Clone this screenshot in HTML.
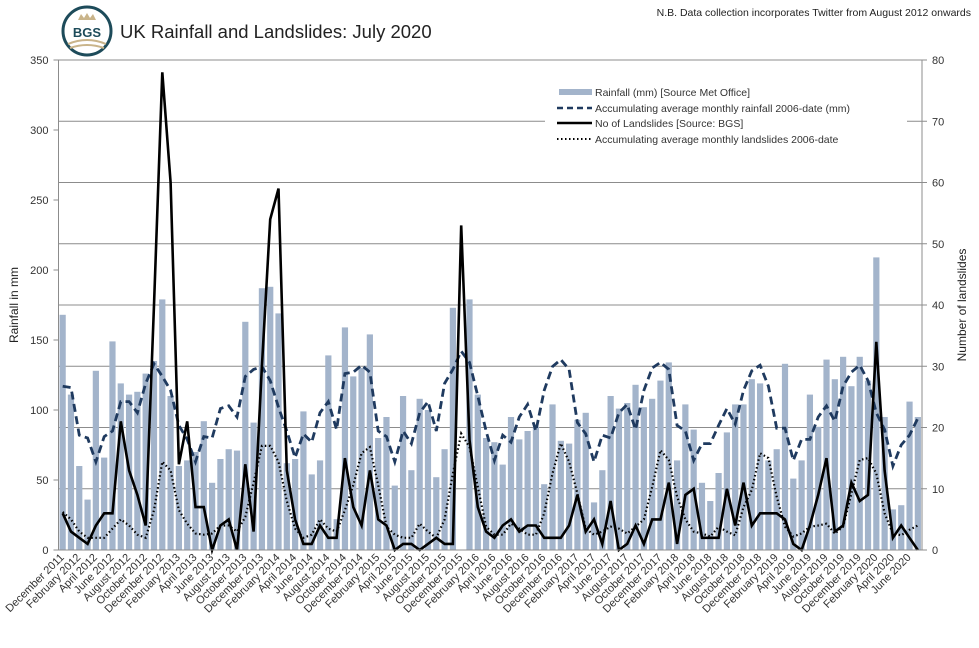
<!DOCTYPE html>
<html><head><meta charset="utf-8">
<style>
html,body{margin:0;padding:0;background:#fff;}
svg{display:block;font-family:"Liberation Sans",sans-serif;}
</style></head>
<body>
<svg id="chart" width="979" height="648" viewBox="0 0 979 648" xmlns="http://www.w3.org/2000/svg">
  <g>
    <circle cx="87" cy="31" r="24" fill="#fff" stroke="#1d4b5a" stroke-width="3"/>
    <path d="M78 20 l3 -6 l3 4 l3 -5 l3 5 l3 -4 l3 6 z" fill="#c9b48a"/>
    <text x="87" y="37" text-anchor="middle" font-size="13" font-weight="bold" fill="#1d4b5a">BGS</text>
    <path d="M68 44 q19 -8 38 0 M70 48 q17 -6 34 0" stroke="#c9b48a" stroke-width="2" fill="none"/>
  </g>
  <text x="120" y="38" font-size="18.5" fill="#222">UK Rainfall and Landslides: July 2020</text>
  <text x="971" y="16" font-size="10.5" text-anchor="end" fill="#222">N.B. Data collection incorporates Twitter from August 2012 onwards</text>
  <g id="grid"></g>
  <g id="bars"></g>
  <g id="lines"></g>
  <g id="axes"></g>
  <g>
    <rect x="545" y="80" width="362" height="72" fill="#fff"/>
    <rect x="559" y="89" width="33" height="6" fill="#a3b4cb"/>
    <text x="595" y="96" font-size="10.5" fill="#333">Rainfall (mm) [Source Met Office]</text>
    <line x1="557" y1="108" x2="592" y2="108" stroke="#1f3a5f" stroke-width="2.5" stroke-dasharray="6 4"/>
    <text x="595" y="112" font-size="10.5" fill="#333">Accumulating average monthly rainfall 2006-date (mm)</text>
    <line x1="557" y1="123" x2="592" y2="123" stroke="#000" stroke-width="2.5"/>
    <text x="595" y="127" font-size="10.5" fill="#333">No of Landslides [Source: BGS]</text>
    <line x1="557" y1="139" x2="592" y2="139" stroke="#000" stroke-width="2" stroke-dasharray="1.5 2.5"/>
    <text x="595" y="143" font-size="10.5" fill="#333">Accumulating average monthly landslides 2006-date</text>
  </g>
  <text transform="translate(18,305) rotate(-90)" text-anchor="middle" font-size="12" fill="#222">Rainfall in mm</text>
  <text transform="translate(966,305) rotate(-90)" text-anchor="middle" font-size="12" fill="#222">Number of landslides</text>
</svg>
<script>
const monthNames = ["January","February","March","April","May","June","July","August","September","October","November","December"];
const rainfall = [168,111,60,36,128,66,149,119,111,113,126,135,179,110,60,64,70,92,48,65,72,71,163,91,187,188,169,62,65,99,54,64,139,22,159,124,130,154,80,95,46,110,57,108,100,52,72,173,0,179,111,80,77,61,95,79,85,88,47,104,78,76,93,98,34,57,110,101,105,118,102,108,121,134,64,104,86,48,35,55,84,104,104,122,119,64,72,133,51,64,111,88,136,122,138,117,138,121,209,95,29,32,106,95];
const avgRainfall = [117,116,82,80,63,81,85,106,106,98,119,133,124,114,89,79,63,81,80,101,103,95,124,129,131,121,102,85,66,83,77,98,106,86,126,127,132,127,85,81,63,85,76,98,106,85,119,129,142,134,110,85,64,82,77,95,104,85,114,131,136,129,91,83,63,82,80,98,104,86,114,130,134,129,89,85,64,76,76,89,101,90,114,128,132,117,87,87,64,79,79,95,103,92,117,127,132,121,98,86,60,75,82,94];
const landslides = [6,3,2,1,4,6,6,21,13,9,4,40,78,60,14,21,7,7,0,4,5,0,14,3,30,54,59,13,5,1,1,4,2,2,15,7,4,13,5,4,0,1,1,0,1,2,1,1,53,18,7,3,2,4,5,3,4,4,2,2,2,4,9,3,5,1,8,0,1,4,1,5,5,11,1,9,10,2,2,2,10,4,11,4,6,6,6,5,1,0,4,9,15,3,4,11,8,9,34,13,2,4,2,0];
const avgLandslides = [6.2,5,3,2,2,2,3.5,5,4,2.5,2,6.5,14.4,13,6.5,4.3,2.7,2.5,2.7,4,4,3,5.4,11,17,17,14.4,8,3.5,2,2.5,5,3.5,3,6.5,10.6,15.8,16.8,10.6,3.8,2.5,2,2,4.3,3,2,5,12.5,19,16.8,10.3,3.8,2.5,2.5,4.3,3.5,2.5,2.5,6,12.5,17.4,14.4,9.2,3.5,2.5,3,3.8,3.5,2.7,3.8,5,10.3,16.3,14.7,8.7,5,3,2.7,2.2,3.8,3,2.4,7,9.8,15.8,15,8.7,3.8,2.2,2.7,3.8,4,4.3,2.7,3.8,9.2,14.7,15,12.5,6,2.7,2.4,3.3,4];
const leftTicks = [0,50,100,150,200,250,300,350];
const rightTicks = [0,10,20,30,40,50,60,70,80];

const NS = "http://www.w3.org/2000/svg";
const X0 = 58.5, X1 = 922, Y0 = 550, Y1 = 60;
const N = rainfall.length;
const band = (X1 - X0) / N;
function xC(i){ return X0 + band * (i + 0.5); }
function yL(v){ return Y0 - (v / 350) * (Y0 - Y1); }
function yR(v){ return Y0 - (v / 80) * (Y0 - Y1); }
function mk(tag, attrs, parent){ const e = document.createElementNS(NS, tag); for (const k in attrs) e.setAttribute(k, attrs[k]); parent.appendChild(e); return e; }
function labelFor(i){ const m = (11 + i) % 12; const y = 2011 + Math.floor((11 + i) / 12); return monthNames[m] + " " + y; }

const grid = document.getElementById("grid");
rightTicks.forEach(function(t){
  const g = mk("line", {x1: X0, x2: X1, y1: yR(t), y2: yR(t), stroke: "#8c8c8c", "stroke-width": 1}, grid);
  
  
});

const bars = document.getElementById("bars");
rainfall.forEach(function(v, i){
  const r = mk("rect", {x: xC(i) - 3.1, y: yL(v), width: 6.2, height: Y0 - yL(v), fill: "#a3b4cb"}, bars);
  
  
});

const lines = document.getElementById("lines");
function pts(arr, yf){ return arr.map(function(v, i){ return xC(i).toFixed(1) + "," + yf(v).toFixed(1); }).join(" "); }
const avgRainLine = mk("polyline", {points: pts(avgRainfall, yL), fill: "none", stroke: "#1f3a5f", "stroke-width": 2.8, "stroke-dasharray": "8 4.5"}, lines);


const avgLsLine = mk("polyline", {points: pts(avgLandslides, yR), fill: "none", stroke: "#000", "stroke-width": 2.2, "stroke-dasharray": "1.5 2.5"}, lines);


const lsLine = mk("polyline", {points: pts(landslides, yR), fill: "none", stroke: "#000", "stroke-width": 2.6, "stroke-linejoin": "miter"}, lines);



const axes = document.getElementById("axes");
const la = mk("line", {x1: X0, x2: X0, y1: Y1, y2: Y0, stroke: "#8c8c8c", "stroke-width": 1}, axes);


const ra = mk("line", {x1: X1, x2: X1, y1: Y1, y2: Y0, stroke: "#8c8c8c", "stroke-width": 1}, axes);


const xa = mk("line", {x1: X0, x2: X1, y1: Y0, y2: Y0, stroke: "#8c8c8c", "stroke-width": 1}, axes);


leftTicks.forEach(function(t){
  mk("line", {x1: X0 - 5, x2: X0, y1: yL(t), y2: yL(t), stroke: "#8c8c8c"}, axes);
  const tx = mk("text", {x: X0 - 10, y: yL(t) + 4, "text-anchor": "end", "font-size": 11, fill: "#333"}, axes);
  tx.textContent = t;
  
  
});
rightTicks.forEach(function(t){
  mk("line", {x1: X1, x2: X1 + 5, y1: yR(t), y2: yR(t), stroke: "#8c8c8c"}, axes);
  const tx = mk("text", {x: X1 + 10, y: yR(t) + 4, "font-size": 11, fill: "#333"}, axes);
  tx.textContent = t;
  
  
});
for (let i = 0; i < N; i += 2){
  const x = xC(i) + 2, y = Y0 + 8;
  const tx = mk("text", {x: x, y: y, "text-anchor": "end", "font-size": 11, fill: "#333", transform: "rotate(-45 " + x + " " + y + ")"}, axes);
  tx.textContent = labelFor(i);
  
  
}
</script>
</body></html>
